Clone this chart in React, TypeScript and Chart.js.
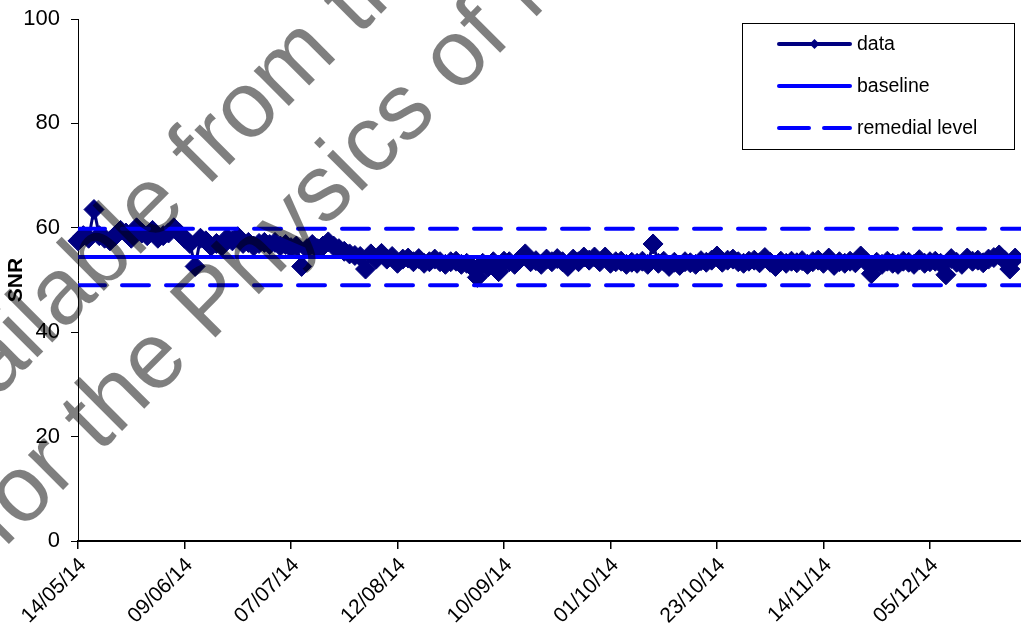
import React, { useEffect, useRef } from "react";
import { Chart, registerables } from "chart.js";

Chart.register(...registerables);

// ---------- data ----------
const tickLabels = [
  "14/05/14", "09/06/14", "07/07/14", "12/08/14", "10/09/14",
  "01/10/14", "23/10/14", "14/11/14", "05/12/14",
];
const pointsPerTick = 20;

const snr = [
  57.5, 58.5, 58.0, 63.5, 58.5, 58.0, 57.5, 58.5, 59.5, 59.0, 58.0, 60.0, 59.0, 58.5, 59.5, 58.0, 58.5, 59.0, 60.0, 59.0, 58.0,
  57.0, 52.6, 58.0, 57.5, 56.5, 57.0, 56.5, 58.0, 57.5, 58.3, 57.0, 57.2, 56.5, 57.0, 57.2, 56.8, 57.2, 56.5, 56.8, 56.2,
  56.5, 52.6, 56.0, 56.8, 56.0, 56.5, 57.3, 56.5, 56.0, 55.5, 55.0, 54.7, 54.5, 52.1, 55.0, 54.0, 55.1, 54.0, 54.5, 53.2,
  54.0, 54.2, 53.5, 54.1, 53.2, 53.5, 54.0, 53.5, 53.0, 53.5, 53.6, 53.0, 53.2, 52.5, 50.5, 53.2, 52.5, 53.5, 51.6, 53.6,
  53.5, 53.0, 54.0, 55.0, 53.5, 53.7, 53.0, 54.0, 53.5, 54.1, 53.5, 52.6, 54.0, 53.5, 54.4, 53.8, 54.4, 53.5, 54.4, 53.2,
  53.5, 53.6, 53.0, 53.4, 53.2, 53.6, 53.0, 56.9, 53.2, 53.6, 52.6, 53.4, 52.8, 53.5, 53.3, 53.0, 53.7, 53.4, 53.8, 54.6,
  53.4, 53.8, 54.0, 53.5, 53.2, 53.6, 53.8, 53.3, 54.3, 53.4, 52.6, 53.6, 53.2, 53.6, 53.3, 53.7, 53.0, 53.5, 53.8, 53.2,
  54.2, 52.8, 53.5, 53.2, 53.6, 53.3, 54.6, 53.5, 51.2, 53.4, 53.0, 53.6, 53.2, 53.0, 53.6, 53.4, 53.0, 53.9, 53.2, 53.5,
  53.6, 53.2, 51.0, 54.1, 53.4, 53.0, 54.2, 53.6, 53.8, 53.3, 54.0, 54.3, 54.8, 53.8, 52.1, 54.2,
];

const baselineValue = 54.4;
const remedialUpper = 59.8;
const remedialLower = 49.0;

const yTicks = [0, 20, 40, 60, 80, 100];
const legendLabels = ["data", "baseline", "remedial level"];
const yTitle = "SNR";
const watermarkLines = ["Available from the Institute", "for the Physics of Medicine"];

// ---------- styles ----------
const FONT = 'Arial, "Liberation Sans", Helvetica, sans-serif';
const NAVY = "#000080";
const BLUE = "#0000FF";
const X_MAX = 177.1;
const DASH = [27, 17];

const legendPlugin = {
  id: "boxLegend",
  afterDraw(chart: any) {
    const { ctx, chartArea } = chart;
    const L = chartArea.right - 279;
    const T = chartArea.top + 4;
    const W = 272;
    const H = 126;
    ctx.save();
    ctx.fillStyle = "#fff";
    ctx.fillRect(L, T, W, H);
    ctx.strokeStyle = "#000";
    ctx.lineWidth = 1;
    ctx.strokeRect(L + 0.5, T + 0.5, W, H);
    const x1 = L + 37;
    const x2 = L + 108;
    const tx = L + 115;
    const rows = [T + 21, T + 63, T + 105];
    ctx.lineCap = "round";
    // data
    ctx.strokeStyle = NAVY;
    ctx.lineWidth = 4;
    ctx.beginPath();
    ctx.moveTo(x1, rows[0]);
    ctx.lineTo(x2, rows[0]);
    ctx.stroke();
    const mx = (x1 + x2) / 2;
    const r = 5;
    ctx.fillStyle = NAVY;
    ctx.beginPath();
    ctx.moveTo(mx - r, rows[0]);
    ctx.lineTo(mx, rows[0] - r);
    ctx.lineTo(mx + r, rows[0]);
    ctx.lineTo(mx, rows[0] + r);
    ctx.closePath();
    ctx.fill();
    // baseline
    ctx.strokeStyle = BLUE;
    ctx.beginPath();
    ctx.moveTo(x1, rows[1]);
    ctx.lineTo(x2, rows[1]);
    ctx.stroke();
    // remedial
    ctx.beginPath();
    ctx.moveTo(x1, rows[2]);
    ctx.lineTo(x1 + 30, rows[2]);
    ctx.moveTo(x1 + 45, rows[2]);
    ctx.lineTo(x2, rows[2]);
    ctx.stroke();
    ctx.fillStyle = "#000";
    ctx.font = `19.5px ${FONT}`;
    ctx.textBaseline = "middle";
    ctx.textAlign = "left";
    legendLabels.forEach((t, i) => ctx.fillText(t, tx, rows[i] + 1));
    ctx.restore();
  },
};

const watermarkPlugin = {
  id: "watermark",
  afterDraw(chart: any) {
    const { ctx } = chart;
    ctx.save();
    ctx.fillStyle = "rgba(0,0,0,0.5)";
    ctx.font = `94px ${FONT}`;
    ctx.textBaseline = "alphabetic";
    ctx.textAlign = "left";
    ctx.translate(3, 550);
    ctx.rotate((-45 * Math.PI) / 180);
    ctx.fillText(watermarkLines[1], 0, 0);
    ctx.fillText(watermarkLines[0], -6, -112);
    ctx.restore();
  },
};

export default function App() {
  const ref = useRef<HTMLCanvasElement | null>(null);

  useEffect(() => {
    if (!ref.current) return;
    Chart.defaults.font.family = FONT;
    const line = (v: number) => [
      { x: 0, y: v },
      { x: X_MAX, y: v },
    ];
    const chart = new Chart(ref.current, {
      type: "line",
      data: {
        datasets: [
          {
            label: legendLabels[0],
            data: snr.map((v, i) => ({ x: i, y: v })),
            borderColor: NAVY,
            backgroundColor: NAVY,
            borderWidth: 3,
            pointStyle: "rectRot",
            pointRadius: 10,
            pointBorderWidth: 1,
            pointBackgroundColor: NAVY,
            pointBorderColor: NAVY,
            tension: 0,
            order: 2,
            clip: false,
          } as any,
          {
            label: legendLabels[1],
            data: line(baselineValue),
            borderColor: BLUE,
            borderWidth: 4,
            pointRadius: 0,
            order: 1,
          },
          {
            label: legendLabels[2],
            data: line(remedialUpper),
            borderColor: BLUE,
            borderWidth: 4,
            borderDash: DASH,
            borderCapStyle: "round",
            pointRadius: 0,
            order: 1,
          },
          {
            label: legendLabels[2] + " (lower)",
            data: line(remedialLower),
            borderColor: BLUE,
            borderWidth: 4,
            borderDash: DASH,
            borderCapStyle: "round",
            pointRadius: 0,
            order: 1,
          },
        ],
      },
      options: {
        animation: false,
        responsive: true,
        maintainAspectRatio: false,
        layout: { autoPadding: false, padding: { top: 19, left: 0, right: 0, bottom: 0 } },
        plugins: {
          legend: { display: false },
          tooltip: { enabled: false },
        },
        scales: {
          x: {
            type: "linear",
            min: 0,
            max: X_MAX,
            afterBuildTicks: (scale: any) => {
              scale.ticks = tickLabels.map((_, i) => ({ value: i * pointsPerTick }));
            },
            afterFit: (scale: any) => {
              scale.height = 94;
              scale.paddingRight = 0;
            },
            border: { display: true, color: "#000", width: 2 },
            grid: {
              drawOnChartArea: false,
              drawTicks: true,
              tickLength: 8,
              color: "#000",
              lineWidth: 1.5,
            },
            ticks: {
              autoSkip: false,
              maxRotation: 45,
              minRotation: 45,
              padding: 4,
              labelOffset: 5,
              color: "#000",
              font: { size: 21 },
              callback: (_v: any, i: number) => tickLabels[i] ?? "",
            },
          },
          y: {
            type: "linear",
            min: 0,
            max: 100,
            afterBuildTicks: (scale: any) => {
              scale.ticks = yTicks.map((v) => ({ value: v }));
            },
            afterFit: (scale: any) => {
              scale.width = 78;
              scale.paddingTop = 0;
              scale.paddingBottom = 0;
            },
            border: { display: true, color: "#000", width: 1 },
            grid: {
              drawOnChartArea: false,
              drawTicks: true,
              tickLength: 7,
              color: "#000",
              lineWidth: 1,
            },
            ticks: {
              padding: 11,
              color: "#000",
              font: { size: 22 },
            },
            title: {
              display: true,
              text: yTitle,
              color: "#000",
              font: { size: 21, weight: "bold" },
              padding: { top: 4, bottom: 0 },
            },
          },
        },
      },
      plugins: [legendPlugin, watermarkPlugin],
    } as any);
    return () => chart.destroy();
  }, []);

  return (
    <div style={{ position: "absolute", left: 0, top: 0, width: 1021, height: 635, background: "#fff" }}>
      <canvas ref={ref} />
    </div>
  );
}
